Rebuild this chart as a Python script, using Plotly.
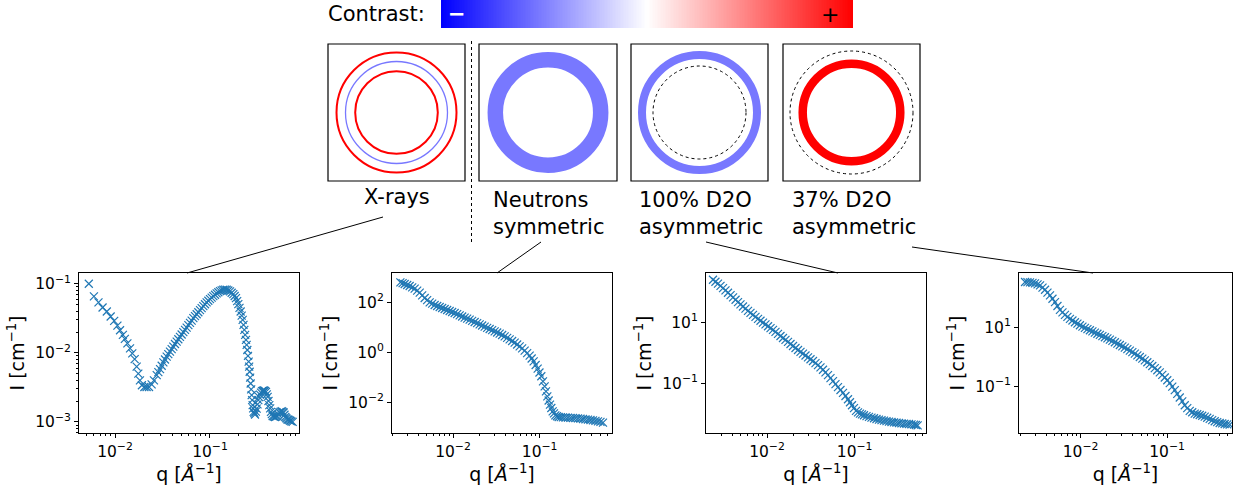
import plotly.graph_objects as go

W, H = 1244, 487
FONT = "DejaVu Sans"
MARK = "#1f77b4"
RING_BLUE = "#7878ff"
RING_RED = "#ff0000"

# ---- scattering curves: q [1/Å], I [1/cm] ----
xray_q = [0.0053, 0.0060, 0.0067, 0.0074, 0.0082, 0.0090, 0.0098, 0.0106, 0.0113, 0.0121,
          0.0127, 0.0135, 0.0144, 0.0152, 0.0161, 0.0169, 0.0176, 0.0183, 0.0192, 0.0204,
          0.0215, 0.0228, 0.0243, 0.0257,
          0.0275, 0.0286, 0.0298, 0.0310, 0.0323, 0.0336, 0.0350, 0.0364, 0.0379, 0.0395,
          0.0411, 0.0428, 0.0446, 0.0464, 0.0483, 0.0503, 0.0524, 0.0546, 0.0568, 0.0592,
          0.0616, 0.0641, 0.0668, 0.0695, 0.0724, 0.0754, 0.0785, 0.0817, 0.0851, 0.0886,
          0.0922, 0.0960, 0.100, 0.1041, 0.1084, 0.1129, 0.1175, 0.1224, 0.1274, 0.1327,
          0.1382, 0.1439, 0.1498, 0.1560, 0.1624, 0.1691, 0.1761, 0.1819, 0.1878, 0.1932,
          0.1987, 0.2044, 0.2103, 0.2155, 0.2208, 0.2253, 0.2298, 0.2345, 0.2393, 0.2432,
          0.2472, 0.2512, 0.2553, 0.2584, 0.2616, 0.2648, 0.2680, 0.2713, 0.2746, 0.2779,
          0.2813, 0.2847, 0.2882, 0.2929, 0.2977, 0.3037, 0.3099, 0.3162, 0.3227, 0.3293,
          0.3360, 0.3442, 0.3527, 0.3613, 0.3702, 0.3793, 0.3886, 0.3965, 0.4046, 0.4128,
          0.4213, 0.4299, 0.4386, 0.4476, 0.4567, 0.4698, 0.4832, 0.4971, 0.5114, 0.5240,
          0.5369, 0.5523, 0.5681, 0.5820, 0.5963, 0.6085, 0.6209, 0.6361, 0.6516, 0.6677,
          0.6841, 0.7008, 0.7180, 0.7417]
xray_I = [0.100, 0.0655, 0.0536, 0.0453, 0.0396, 0.0335, 0.0290, 0.0248, 0.0212, 0.0182,
          0.0159, 0.0137, 0.0116, 0.0098, 0.0081, 0.0063, 0.0050, 0.0040, 0.0034, 0.0032,
          0.0032, 0.0032, 0.0035, 0.0040,
          0.00476, 0.00526, 0.00582, 0.00651, 0.00728, 0.00800, 0.00880, 0.00956, 0.0104, 0.0113,
          0.0123, 0.0134, 0.0145, 0.0157, 0.0170, 0.0184, 0.0199, 0.0215, 0.0232, 0.0251,
          0.0271, 0.0293, 0.0317, 0.0339, 0.0362, 0.0387, 0.0414, 0.0443, 0.0474, 0.0504,
          0.0536, 0.0567, 0.0599, 0.0630, 0.0662, 0.0692, 0.0724, 0.0752, 0.0782, 0.0800,
          0.0818, 0.0822, 0.0818, 0.0797, 0.0774, 0.0741, 0.0708, 0.0664, 0.0619, 0.0560,
          0.0506, 0.0448, 0.0396, 0.0345, 0.0300, 0.0254, 0.0215, 0.0182, 0.0154, 0.0130,
          0.0110, 0.00905, 0.00744, 0.00630, 0.00533, 0.00438, 0.00360, 0.00296, 0.00244, 0.00207,
          0.00175, 0.00157, 0.00140, 0.00134, 0.00128, 0.00141, 0.00156, 0.00180, 0.00207, 0.00228,
          0.00249, 0.00265, 0.00279, 0.00283, 0.00285, 0.00280, 0.00273, 0.00251, 0.00231, 0.00201,
          0.00175, 0.00157, 0.00140, 0.00130, 0.00122, 0.00120, 0.00118, 0.00120, 0.00122, 0.00129,
          0.00137, 0.00140, 0.00143, 0.00140, 0.00137, 0.00127, 0.00118, 0.00113, 0.00109, 0.00108,
          0.00106, 0.00104, 0.00102, 0.00100]

neu_q = [0.00247, 0.00262, 0.00277, 0.00296, 0.00316, 0.00338, 0.00361, 0.00386, 0.00413, 0.00441,
         0.00471, 0.00503, 0.00538, 0.00575, 0.00614, 0.00657, 0.00702, 0.00750, 0.00801, 0.00856,
         0.00915, 0.00978, 0.01045, 0.01117, 0.01194, 0.01276, 0.01363, 0.01457, 0.01557, 0.01664,
         0.01778, 0.01900, 0.02031, 0.02170, 0.02319, 0.02479, 0.02649, 0.02831, 0.03025, 0.03233,
         0.03455, 0.03692, 0.03946, 0.04217, 0.04506, 0.04815, 0.05146, 0.05500, 0.05878, 0.06282,
         0.06713, 0.07174, 0.07667, 0.08086, 0.08527, 0.08992, 0.09482, 0.0995, 0.1045, 0.1092,
         0.1142, 0.1183, 0.1226, 0.1270, 0.1316, 0.1364, 0.1413, 0.1464, 0.1517, 0.1585,
         0.1657, 0.1755, 0.1858, 0.1986, 0.2123, 0.2269, 0.2425, 0.2591, 0.2769, 0.2959,
         0.3162, 0.3380, 0.3612, 0.3860, 0.4125, 0.4408, 0.4711, 0.5034, 0.5380]
neu_I = [631, 584, 541, 493, 450, 398, 352, 293, 244, 191,
         149, 122, 100, 88.4, 78.2, 71.3, 65.1, 59.3, 54.1, 49.3,
         45.0, 41.0, 37.4, 33.6, 30.2, 27.1, 24.4, 22.3, 20.3, 18.2,
         16.3, 14.7, 13.2, 11.8, 10.6, 9.53, 8.57, 7.70, 6.92, 6.21,
         5.58, 4.94, 4.37, 3.80, 3.31, 2.84, 2.44, 2.06, 1.74, 1.43,
         1.17, 0.928, 0.736, 0.567, 0.437, 0.311, 0.222, 0.156, 0.110, 0.0693,
         0.0437, 0.0276, 0.0174, 0.0118, 0.00807, 0.00594, 0.00437, 0.00363, 0.00302, 0.00278,
         0.00259, 0.00255, 0.00251, 0.00248, 0.00244, 0.00240, 0.00236, 0.00232, 0.00229, 0.00222,
         0.00215, 0.00209, 0.00203, 0.00197, 0.00191, 0.00182, 0.00174, 0.00164, 0.00154]

d2o100_q = [0.00242, 0.00258, 0.00276, 0.00295, 0.00315, 0.00336, 0.00359, 0.00384, 0.00410, 0.00438,
            0.00467, 0.00498, 0.00532, 0.00568, 0.00607, 0.00648, 0.00692, 0.00739, 0.00790, 0.00843,
            0.00900, 0.00961, 0.01027, 0.01097, 0.01171, 0.01250, 0.01335, 0.01425, 0.01522, 0.01625,
            0.01736, 0.01854, 0.01980, 0.02114, 0.02258, 0.02411, 0.02574, 0.02749, 0.02936, 0.03135,
            0.03348, 0.03575, 0.03817, 0.04076, 0.04353, 0.04648, 0.04964, 0.05301, 0.05662, 0.06045,
            0.06455, 0.06893, 0.07361, 0.07861, 0.08395, 0.08848, 0.09324, 0.09828, 0.1036, 0.1092,
            0.1150, 0.1212, 0.1278, 0.1365, 0.1457, 0.1556, 0.1662, 0.1775, 0.1895, 0.2024,
            0.2161, 0.2308, 0.2464, 0.2631, 0.2810, 0.3001, 0.3205, 0.3422, 0.3654, 0.3903,
            0.4168, 0.4451, 0.4753, 0.4987, 0.5232]
d2o100_I = [244, 210, 181, 154, 130, 109, 91.6, 76.8, 64.4, 54.0,
            45.3, 38.4, 32.6, 27.7, 23.5, 20.2, 17.4, 15.0, 12.9, 11.2,
            9.75, 8.49, 7.40, 6.44, 5.61, 4.82, 4.14, 3.56, 3.06, 2.64,
            2.27, 1.95, 1.67, 1.44, 1.24, 1.08, 0.939, 0.818, 0.712, 0.620,
            0.540, 0.464, 0.399, 0.335, 0.281, 0.230, 0.188, 0.150, 0.119, 0.0950,
            0.0758, 0.0612, 0.0494, 0.0389, 0.0306, 0.0244, 0.0195, 0.0157, 0.0127, 0.0114,
            0.0104, 0.00976, 0.00916, 0.00860, 0.00807, 0.00768, 0.00730, 0.00694, 0.00660, 0.00636,
            0.00612, 0.00590, 0.00568, 0.00554, 0.00540, 0.00526, 0.00513, 0.00500, 0.00488, 0.00482,
            0.00476, 0.00464, 0.00453, 0.00441, 0.00430]

d2o37_q = [0.00228, 0.00243, 0.00260, 0.00278, 0.00297, 0.00318, 0.00340, 0.00363, 0.00388, 0.00414,
           0.00443, 0.00473, 0.00506, 0.00540, 0.00577, 0.00617, 0.00659, 0.00704, 0.00753, 0.00805,
           0.00860, 0.00919, 0.00982, 0.01050, 0.01122, 0.01199, 0.01281, 0.01369, 0.01463, 0.01564,
           0.01671, 0.01786, 0.01909, 0.02040, 0.02180, 0.02330, 0.02490, 0.02661, 0.02843, 0.03038,
           0.03247, 0.03470, 0.03709, 0.03964, 0.04236, 0.04527, 0.04837, 0.05170, 0.05525, 0.05904,
           0.06310, 0.06743, 0.07206, 0.07701, 0.08230, 0.08795, 0.09399, 0.1004, 0.1073, 0.1147,
           0.1226, 0.1310, 0.1400, 0.1496, 0.1599, 0.1709, 0.1826, 0.1952, 0.2086, 0.2229,
           0.2382, 0.2545, 0.2720, 0.2907, 0.3107, 0.3320, 0.3548, 0.3792, 0.4052, 0.4330,
           0.4628, 0.4946, 0.5285]
d2o37_I = [342, 338, 333, 321, 308, 285, 263, 222, 187, 150,
           120, 92.4, 71.2, 52.7, 39.0, 32.0, 26.3, 22.5, 19.2, 16.9,
           14.8, 13.2, 11.7, 10.5, 9.49, 8.66, 7.90, 7.21, 6.58, 6.00,
           5.48, 5.00, 4.56, 4.16, 3.80, 3.42, 3.08, 2.77, 2.50, 2.25,
           2.03, 1.80, 1.60, 1.43, 1.27, 1.11, 0.974, 0.855, 0.750, 0.649,
           0.562, 0.481, 0.411, 0.346, 0.292, 0.240, 0.197, 0.158, 0.127, 0.0963,
           0.0730, 0.0548, 0.0411, 0.0304, 0.0225, 0.0180, 0.0144, 0.0130, 0.0117, 0.0111,
           0.0105, 0.00985, 0.00924, 0.00843, 0.00770, 0.00703, 0.00641, 0.00600, 0.00562, 0.00541,
           0.00520, 0.00506, 0.00493]

x_ticks = [1e-2, 1e-1]
x_ticktext = ["10<sup>−2</sup>", "10<sup>−1</sup>"]

panel_titles = ["X-rays", "Neutrons<br>symmetric", "100% D2O<br>asymmetric", "37% D2O<br>asymmetric"]


def fx(x):
    return x / W


def fy(y):
    return 1 - y / H


def decade_label(e):
    return "10<sup>%s</sup>" % (str(e).replace("-", "−"))


minor_vals = [m * 10.0 ** k for k in range(-5, 4) for m in range(2, 10)]

panels = [
    dict(q=xray_q, I=xray_I, left=79, right=299, xr=[-2.379, -0.063], yr=[-3.160, -0.845],
         yexp=[-3, -2, -1], yminor=True),
    dict(q=neu_q, I=neu_I, left=392, right=612, xr=[-2.704, -0.165], yr=[-3.227, 3.173],
         yexp=[-2, 0, 2], yminor=False),
    dict(q=d2o100_q, I=d2o100_I, left=706, right=926, xr=[-2.696, -0.186], yr=[-2.617, 2.607],
         yexp=[-1, 1], yminor=False),
    dict(q=d2o37_q, I=d2o37_I, left=1019, right=1232, xr=[-2.712, -0.250], yr=[-2.591, 2.841],
         yexp=[-1, 1], yminor=False),
]

fig = go.Figure()
layout = dict(
    width=W, height=H, margin=dict(l=0, r=0, t=0, b=0),
    paper_bgcolor="white", plot_bgcolor="white", showlegend=False,
    font=dict(family=FONT, color="black"),
)

PLOT_TOP, PLOT_BOTTOM = 273, 433

for i, p in enumerate(panels, start=1):
    sfx = "" if i == 1 else str(i)
    fig.add_trace(go.Scatter(
        x=p["q"], y=p["I"], mode="markers",
        marker=dict(symbol="x-thin", size=8, color=MARK, line=dict(width=1.2, color=MARK)),
        xaxis="x" + sfx, yaxis="y" + sfx, hoverinfo="skip",
    ))
    common = dict(
        type="log", showline=True, linecolor="black", linewidth=1, mirror=True,
        ticks="outside", ticklen=4, tickwidth=1, tickcolor="black",
        showgrid=False, zeroline=False,
        tickfont=dict(family=FONT, size=15.5, color="black"),
    )
    layout["xaxis" + sfx] = dict(
        common, range=p["xr"], domain=[fx(p["left"]), fx(p["right"])], anchor="y" + sfx,
        tickvals=x_ticks, ticktext=x_ticktext,
        minor=dict(ticks="outside", ticklen=2, tickwidth=0.8, tickcolor="black", tickvals=minor_vals),
        title=dict(text="q [<i>Å</i><sup>−1</sup>]", font=dict(family=FONT, size=19), standoff=3),
    )
    yax = dict(
        common, range=p["yr"], domain=[fy(PLOT_BOTTOM), fy(PLOT_TOP)], anchor="x" + sfx,
        tickvals=[10.0 ** e for e in p["yexp"]], ticktext=[decade_label(e) for e in p["yexp"]],
        title=dict(text="I [cm<sup>−1</sup>]", font=dict(family=FONT, size=19), standoff=5),
    )
    if p["yminor"]:
        yax["minor"] = dict(ticks="outside", ticklen=2, tickwidth=0.8, tickcolor="black", tickvals=minor_vals)
    layout["yaxis" + sfx] = yax

# contrast colour bar (blue-white-red)
bar_vals = [[k / 255.0 * 2 - 1 for k in range(256)]]
fig.add_trace(go.Heatmap(
    z=bar_vals, colorscale=[[0, "rgb(0,0,255)"], [0.5, "rgb(255,255,255)"], [1, "rgb(255,0,0)"]],
    showscale=False, xaxis="x5", yaxis="y5", hoverinfo="skip",
))
layout["xaxis5"] = dict(domain=[fx(441), fx(853)], range=[-0.5, 255.5], visible=False, anchor="y5")
layout["yaxis5"] = dict(domain=[fy(28), 1.0], range=[-0.5, 0.5], visible=False, anchor="x5")

shapes = []
annotations = []

annotations.append(dict(x=fx(427), y=fy(14), xref="paper", yref="paper", text="Contrast:",
                        showarrow=False, xanchor="right", yanchor="middle",
                        font=dict(family=FONT, size=21, color="black")))
annotations.append(dict(x=fx(457), y=1.0, xref="paper", yref="paper", text="<b>−</b>",
                        showarrow=False, xanchor="center", yanchor="top",
                        font=dict(family=FONT, size=21, color="white")))
annotations.append(dict(x=fx(830), y=1.0, xref="paper", yref="paper", text="+",
                        showarrow=False, xanchor="center", yanchor="top",
                        font=dict(family=FONT, size=22, color="black")))

# sketch boxes
BOX_TOP, BOX_BOTTOM = 44, 181
boxes = [(328, 465), (479, 617), (631, 768), (783, 920)]
for (l, r) in boxes:
    shapes.append(dict(type="rect", xref="paper", yref="paper", x0=fx(l), x1=fx(r),
                       y0=fy(BOX_BOTTOM), y1=fy(BOX_TOP), line=dict(color="black", width=1.2)))


def ring(cx, cy, r, color, width, dash="solid"):
    return dict(type="circle", xref="paper", yref="paper",
                x0=fx(cx - r), x1=fx(cx + r), y0=fy(cy + r), y1=fy(cy - r),
                line=dict(color=color, width=width, dash=dash), fillcolor="rgba(0,0,0,0)")


cy = (BOX_TOP + BOX_BOTTOM) / 2
cx = [(l + r) / 2 for (l, r) in boxes]
shapes += [
    ring(cx[0], cy, 60, RING_RED, 2),
    ring(cx[0], cy, 51, RING_BLUE, 1.3),
    ring(cx[0], cy, 41.3, RING_RED, 2),
    ring(cx[1], cy, 52.7, RING_BLUE, 15.5),
    ring(cx[2], cy, 57.5, RING_BLUE, 8),
    ring(cx[2], cy, 46.5, "black", 1, "dot"),
    ring(cx[3], cy, 48.8, RING_RED, 8.5),
    ring(cx[3], cy, 61.5, "black", 1, "dot"),
]

# separator between X-ray and neutron sketches
shapes.append(dict(type="line", xref="paper", yref="paper", x0=fx(471.5), x1=fx(471.5),
                   y0=fy(242), y1=fy(40), line=dict(color="black", width=1, dash="3px,3px")))

# leader lines from sketch labels to plots
leaders = [((383, 217), (187, 273)), ((541, 242), (497, 273)),
           ((706, 242), (838, 273)), ((912, 247), (1093, 273))]
for (a, b) in leaders:
    shapes.append(dict(type="line", xref="paper", yref="paper", x0=fx(a[0]), y0=fy(a[1]),
                       x1=fx(b[0]), y1=fy(b[1]), line=dict(color="black", width=1)))

# sketch labels
annotations.append(dict(x=fx(396.5), y=fy(197), xref="paper", yref="paper", text=panel_titles[0],
                        showarrow=False, xanchor="center", yanchor="middle",
                        font=dict(family=FONT, size=21, color="black")))
for t, x in zip(panel_titles[1:], [491, 637, 790]):
    annotations.append(dict(x=fx(x), y=fy(186), xref="paper", yref="paper", text=t,
                            showarrow=False, xanchor="left", yanchor="top", align="left",
                            font=dict(family=FONT, size=21, color="black")))

layout["shapes"] = shapes
layout["annotations"] = annotations
fig.update_layout(layout)
fig.write_html("out.html")
